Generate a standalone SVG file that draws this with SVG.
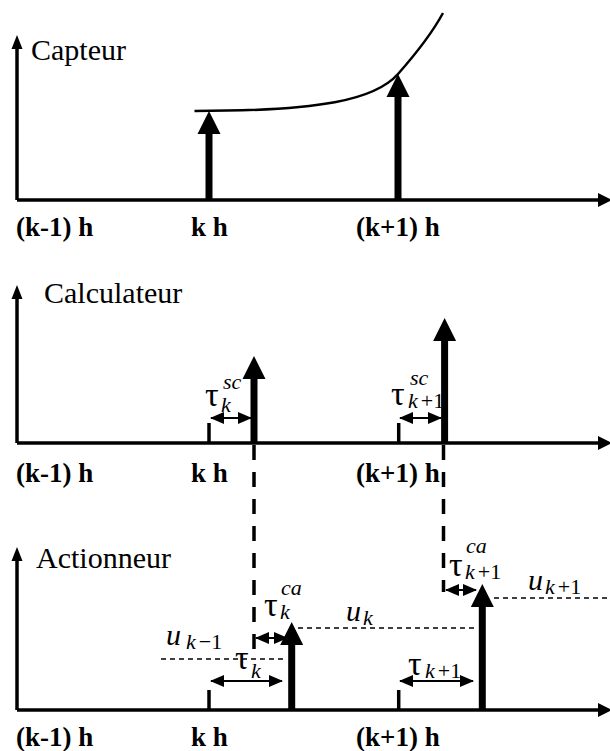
<svg xmlns="http://www.w3.org/2000/svg" width="610" height="751" viewBox="0 0 610 751">
<defs>
<style>
.ax{stroke:#000;stroke-width:3.5;fill:none}
.sh{stroke:#000;stroke-width:7;fill:none}
.tk{stroke:#000;stroke-width:3.5;fill:none}
.hd{fill:#000;stroke:none}
.dbl{stroke:#000;stroke-width:2;fill:none;marker-start:url(#dh);marker-end:url(#dh)}
.dv{stroke:#000;stroke-width:3.5;fill:none;stroke-dasharray:15 12}
.dh{stroke:#000;stroke-width:1.6;fill:none;stroke-dasharray:5 4}
text{font-family:'Liberation Serif','Times New Roman',Times,'DejaVu Serif',serif}
.ttl{font-size:30px}
.lbl{font-size:27px;font-weight:bold}
.g{font-size:34px}
.i{font-size:30px;font-style:italic}
.s{font-size:22px;font-style:italic}
.sn{font-size:22px}
</style>
<marker id="dh" viewBox="0 0 14 12" refX="13" refY="6" markerWidth="14" markerHeight="12" markerUnits="userSpaceOnUse" orient="auto-start-reverse">
<path d="M0,0 L14,6 L0,12 z" fill="#000"/>
</marker>
</defs>

<g id="panel-capteur">
<path class="ax" d="M17,200 V46"/>
<path class="hd" d="M17,35 L22.5,49 L11.5,49 z"/>
<path class="ax" d="M17,200 H600"/>
<path class="hd" d="M598,193 L612,200 L598,207 z"/>
<text class="ttl" x="31" y="60">Capteur</text>
<path d="M194.5,111 C320,111 375,100 398,74 C413,57 430,37 443,13" stroke="#000" stroke-width="2.5" fill="none"/>
<path class="sh" d="M209,200 V133"/>
<path class="hd" d="M209,111 L220.5,134 L197.5,134 z"/>
<path class="sh" d="M398,200 V96"/>
<path class="hd" d="M398,74 L409.5,97 L386.5,97 z"/>
<text class="lbl" x="16" y="236">(k-1) h</text>
<text class="lbl" x="191" y="236">k h</text>
<text class="lbl" x="356" y="236">(k+1) h</text>
</g>

<g id="panel-calculateur">
<path class="ax" d="M17,443 V296"/>
<path class="hd" d="M17,285 L22.5,299 L11.5,299 z"/>
<path class="ax" d="M17,443 H600"/>
<path class="hd" d="M598,436 L612,443 L598,450 z"/>
<text class="ttl" x="44" y="303">Calculateur</text>
<path class="tk" d="M209,443 V423"/>
<path class="tk" d="M398.7,443 V423"/>
<path class="sh" d="M254,443 V377"/>
<path class="hd" d="M254,356 L265.5,379 L242.5,379 z"/>
<path class="sh" d="M444.6,443 V339"/>
<path class="hd" d="M444.6,318 L456.1,341 L433.1,341 z"/>
<path class="dbl" d="M211,418 H251"/>
<path class="dbl" d="M400,418 H441"/>
<text class="g" x="205" y="406">τ</text>
<text class="s" x="223" y="389">sc</text>
<text class="s" x="221" y="412">k</text>
<text class="g" x="391" y="405">τ</text>
<text class="s" x="410" y="385">sc</text>
<text x="408" y="408"><tspan class="s">k</tspan><tspan class="sn" dx="3">+1</tspan></text>
<text class="lbl" x="16" y="482">(k-1) h</text>
<text class="lbl" x="191" y="482">k h</text>
<text class="lbl" x="356" y="482">(k+1) h</text>
</g>

<g id="panel-actionneur">
<path class="ax" d="M17,710 V558"/>
<path class="hd" d="M17,547 L22.5,561 L11.5,561 z"/>
<path class="ax" d="M17,710 H600"/>
<path class="hd" d="M598,703 L612,710 L598,717 z"/>
<text class="ttl" x="36" y="568">Actionneur</text>
<path class="tk" d="M209,710 V690"/>
<path class="tk" d="M398.7,710 V690"/>
<path class="sh" d="M291.7,710 V643"/>
<path class="hd" d="M291.7,622 L303.2,645 L280.2,645 z"/>
<path class="sh" d="M482.3,710 V605"/>
<path class="hd" d="M482.3,584 L493.8,607 L470.8,607 z"/>
<path class="dh" d="M161,659 H284"/>
<path class="dh" d="M298,628 H477"/>
<path class="dh" d="M494,598 H610"/>
<path class="dbl" d="M211,681 H282"/>
<path class="dbl" d="M400,681 H473"/>
<path class="dbl" d="M256,638 H287"/>
<path class="dbl" d="M446,590 H476"/>
<text class="g" x="264" y="616">τ</text>
<text class="s" x="281" y="595">ca</text>
<text class="s" x="280" y="619">k</text>
<text class="g" x="449" y="576">τ</text>
<text class="s" x="466" y="553">ca</text>
<text x="465" y="579"><tspan class="s">k</tspan><tspan class="sn" dx="3">+1</tspan></text>
<text class="i" x="166" y="645">u</text>
<text x="186" y="649"><tspan class="s">k</tspan><tspan class="sn" dx="3">−1</tspan></text>
<text class="i" x="346" y="621">u</text>
<text class="s" x="363" y="625">k</text>
<text class="i" x="528" y="590">u</text>
<text x="545" y="594"><tspan class="s">k</tspan><tspan class="sn" dx="3">+1</tspan></text>
<text class="g" x="235" y="669">τ</text>
<text class="s" x="251" y="678">k</text>
<text class="g" x="408" y="675">τ</text>
<text x="425" y="678"><tspan class="s">k</tspan><tspan class="sn" dx="3">+1</tspan></text>
<text class="lbl" x="16" y="746">(k-1) h</text>
<text class="lbl" x="191" y="746">k h</text>
<text class="lbl" x="356" y="746">(k+1) h</text>
</g>

<g id="connectors">
<path class="dv" d="M254,445 V650"/>
<path class="dv" d="M443.5,445 V592"/>
</g>
</svg>
